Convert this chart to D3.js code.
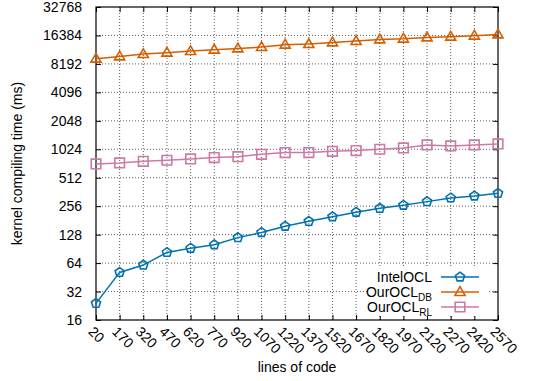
<!DOCTYPE html>
<html lang="en">
<head>
<meta charset="utf-8">
<title>kernel compiling time</title>
<script src="https://d3js.org/d3.v7.min.js"></script>
<style>
  body { margin: 0; background: #fff; }
  text { font-family: "Liberation Sans", Arial, sans-serif; }
</style>
</head>
<body>
<script>
// data
const loc = [20, 170, 320, 470, 620, 770, 920, 1070, 1220, 1370, 1520, 1670, 1820, 1970, 2120, 2270, 2420, 2570];
const intelOCL = [24, 51, 61, 83, 92, 100, 119, 135, 157, 177, 198, 221, 243, 262, 286, 313, 328, 350];
const ourOCL_DB = [9300, 9830, 10400, 10760, 11190, 11580, 11950, 12340, 13080, 13270, 13830, 14280, 14880, 15140, 15620, 15890, 16280, 16810];
const ourOCL_RL = [716, 734, 764, 784, 809, 836, 856, 906, 944, 944, 975, 991, 1024, 1058, 1138, 1111, 1138, 1166];
const yTicks = [16, 32, 64, 128, 256, 512, 1024, 2048, 4096, 8192, 16384, 32768];

const width = 540, height = 381;
const mLeft = 96, mRight = 498, mTop = 7, mBottom = 320;

const svg = d3.select("body").append("svg")
  .attr("width", width).attr("height", height);

const x = d3.scalePoint().domain(loc).range([mLeft, mRight]);
const y = d3.scaleLog().base(2).domain([16, 32768]).range([mBottom, mTop]);

// grid
svg.append("g").selectAll("line").data(loc.slice(1, -1)).enter().append("line")
  .attr("x1", d => x(d)).attr("x2", d => x(d))
  .attr("y1", mTop).attr("y2", mBottom)
  .attr("stroke", "#333").attr("stroke-width", 0.8).attr("stroke-dasharray", "1,2");
svg.append("g").selectAll("line").data(yTicks.slice(1, -1)).enter().append("line")
  .attr("x1", mLeft).attr("x2", mRight)
  .attr("y1", d => y(d)).attr("y2", d => y(d))
  .attr("stroke", "#333").attr("stroke-width", 0.8).attr("stroke-dasharray", "1,2");

// axes
const leftAxis = d3.axisLeft(y).tickValues(yTicks).tickFormat(d3.format("d")).tickSizeInner(-5).tickSizeOuter(0).tickPadding(14);
const rightAxis = d3.axisRight(y).tickValues(yTicks).tickFormat("").tickSizeInner(-5).tickSizeOuter(0);
const bottomAxis = d3.axisBottom(x).tickSizeInner(-5).tickSizeOuter(0).tickFormat("");
const topAxis = d3.axisTop(x).tickSizeInner(-5).tickSizeOuter(0).tickFormat("");

svg.append("g").attr("transform", `translate(${mLeft},0)`).call(leftAxis)
  .call(g => g.selectAll("text").attr("font-size", 14).attr("font-family", "Liberation Sans, Arial, sans-serif").attr("fill", "#000"));
svg.append("g").attr("transform", `translate(${mRight},0)`).call(rightAxis);
svg.append("g").attr("transform", `translate(0,${mBottom})`).call(bottomAxis);
svg.append("g").attr("transform", `translate(0,${mTop})`).call(topAxis);
svg.selectAll(".domain").remove();

// x tick labels, rotated
svg.append("g").selectAll("text").data(loc).enter().append("text")
  .attr("transform", d => `translate(${x(d) - 5},${mBottom + 9}) rotate(45)`)
  .attr("dy", "0.35em")
  .attr("font-size", 14)
  .text(d => d);

// frame
svg.append("rect").attr("x", mLeft).attr("y", mTop)
  .attr("width", mRight - mLeft).attr("height", mBottom - mTop)
  .attr("fill", "none").attr("stroke", "#000").attr("stroke-width", 1.2);

// axis titles
svg.append("text").attr("x", (mLeft + mRight) / 2).attr("y", 372)
  .attr("text-anchor", "middle").attr("font-size", 14).text("lines of code");
svg.append("text").attr("transform", `translate(22,${(mTop + mBottom) / 2}) rotate(-90)`)
  .attr("text-anchor", "middle").attr("font-size", 14).text("kernel compiling time (ms)");

// markers
const pentagon = r => {
  const pts = d3.range(5).map(i => {
    const a = -Math.PI / 2 + i * 2 * Math.PI / 5;
    return [r * Math.cos(a), r * Math.sin(a)];
  });
  return "M" + pts.join("L") + "Z";
};
const triangle = r => `M0,${-r}L${r * 0.95},${r * 0.65}L${-r * 0.95},${r * 0.65}Z`;
const square = r => `M${-r},${-r}H${r}V${r}H${-r}Z`;

const series = [
  { name: "IntelOCL", sub: "", values: intelOCL, color: "#0072b2", shape: pentagon(4.8) },
  { name: "OurOCL", sub: "DB", values: ourOCL_DB, color: "#d55e00", shape: triangle(5.3) },
  { name: "OurOCL", sub: "RL", values: ourOCL_RL, color: "#cc79a7", shape: square(4.8) }
];

const line = d3.line().x((d, i) => x(loc[i])).y(d => y(d));

series.forEach(s => {
  svg.append("path").datum(s.values).attr("d", line)
    .attr("fill", "none").attr("stroke", s.color).attr("stroke-width", 1.5);
  svg.append("g").selectAll("path").data(s.values).enter().append("path")
    .attr("transform", (d, i) => `translate(${x(loc[i])},${y(d)})`)
    .attr("d", s.shape)
    .attr("fill", "none").attr("stroke", s.color).attr("stroke-width", 1.6);
});

// legend
const legend = svg.append("g");
legend.append("rect").attr("x", 368).attr("y", 266).attr("width", 120).attr("height", 50).attr("fill", "#fff");
series.forEach((s, i) => {
  const ly = 277 + i * 15;
  const t = legend.append("text").attr("x", 432).attr("y", ly).attr("dy", "0.35em")
    .attr("text-anchor", "end").attr("font-size", 14);
  t.append("tspan").text(s.name);
  if (s.sub) t.append("tspan").attr("font-size", 10).attr("dy", "0.4em").text(s.sub);
  legend.append("line").attr("x1", 441).attr("x2", 479).attr("y1", ly).attr("y2", ly)
    .attr("stroke", s.color).attr("stroke-width", 1.5);
  legend.append("path").attr("transform", `translate(460,${ly})`).attr("d", s.shape)
    .attr("fill", "none").attr("stroke", s.color).attr("stroke-width", 1.6);
});
</script>
</body>
</html>
